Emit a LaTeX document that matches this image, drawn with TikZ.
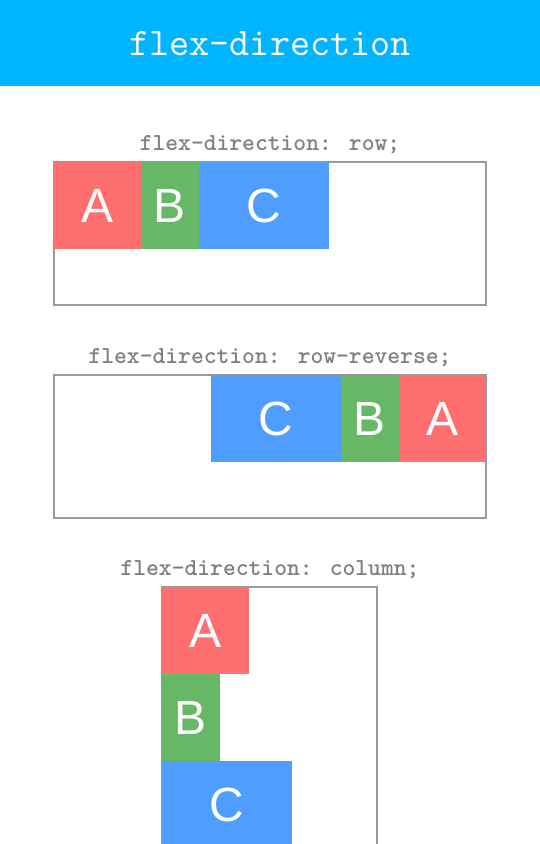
\documentclass[tikz,border=0pt]{standalone}
\usepackage{fontspec}
\setmainfont{Liberation Sans}
\usetikzlibrary{positioning}

\definecolor{headblue}{HTML}{00B4FF}
\definecolor{flexred}{HTML}{FF6F6F}
\definecolor{flexgreen}{HTML}{66B866}
\definecolor{flexblue}{HTML}{4F9EFF}
\definecolor{boxgray}{HTML}{999999}
\definecolor{cssgray}{HTML}{808080}

\begin{document}
\begin{tikzpicture}[x=1pt,y=-1pt]
	\tikzset{
	    item/.style={fill=#1, text=white, inner sep=0pt, outer sep=0pt,
	        minimum height=87pt, font=\fontsize{48}{48}\selectfont},
	    container/.style={draw=boxgray, line width=1.5pt, inner sep=0pt, outer sep=0pt},
	    cssline/.style={anchor=base, text=cssgray, font=\ttfamily\bfseries\fontsize{24.4}{24.4}\selectfont}
	}

	\useasboundingbox (0,0) rectangle (540,844);
	\clip (0,0) rectangle (540,844);

	% header
	\fill[headblue] (0,0) rectangle (540,86);
	\node[anchor=base, text=white, font=\ttfamily\fontsize{39}{39}\selectfont] (title) at (270,55) {flex-direction};

	% row
	\node[cssline] (rowcss) at (270,150) {flex-direction: row;};
	\node[container, minimum width=432pt, minimum height=143pt, anchor=north west] (rowbox) at (54,162) {};
	\node[item=flexred, minimum width=87pt, anchor=north west] (rowA) at (rowbox.north west) {A};
	\node[item=flexgreen, minimum width=58pt, right=0pt of rowA] (rowB) {B};
	\node[item=flexblue, minimum width=130pt, right=0pt of rowB] (rowC) {C};

	% row-reverse
	\node[cssline] (revcss) at (270,363) {flex-direction: row-reverse;};
	\node[container, minimum width=432pt, minimum height=143pt, anchor=north west] (revbox) at (54,375) {};
	\node[item=flexred, minimum width=87pt, anchor=north east] (revA) at (revbox.north east) {A};
	\node[item=flexgreen, minimum width=58pt, left=0pt of revA] (revB) {B};
	\node[item=flexblue, minimum width=130pt, left=0pt of revB] (revC) {C};

	% column
	\node[cssline] (colcss) at (270,575) {flex-direction: column;};
	\node[container, minimum width=215pt, minimum height=300pt, anchor=north west] (colbox) at (162,587) {};
	\node[item=flexred, minimum width=87pt, anchor=north west] (colA) at (colbox.north west) {A};
	\node[item=flexgreen, minimum width=58pt, anchor=north west] (colB) at (colA.south west) {B};
	\node[item=flexblue, minimum width=130pt, anchor=north west] (colC) at (colB.south west) {C};

\end{tikzpicture}
\end{document}
